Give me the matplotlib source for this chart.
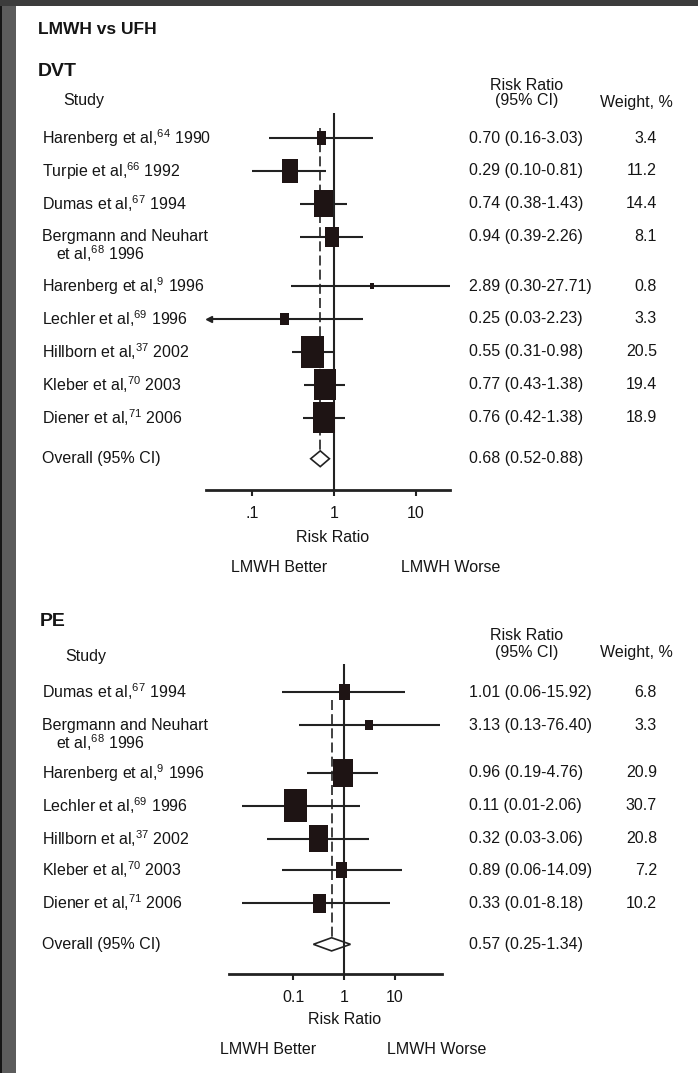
import numpy as np
import matplotlib
matplotlib.use('Agg')
import matplotlib.pyplot as plt
from matplotlib.path import Path
from matplotlib.patches import Rectangle, Polygon
from matplotlib.transforms import blended_transform_factory

plt.rcParams['font.family'] = ['Liberation Sans', 'DejaVu Sans']
plt.rcParams['mathtext.fontset'] = 'custom'
plt.rcParams['mathtext.rm'] = 'Liberation Sans'
plt.rcParams['mathtext.it'] = 'Liberation Sans:italic'
plt.rcParams['mathtext.bf'] = 'Liberation Sans:bold'
plt.rcParams['mathtext.default'] = 'rm'

# ---------------- data ----------------
dvt_studies = ["Harenberg et al,$^{64}$ 1990", "Turpie et al,$^{66}$ 1992",
               "Dumas et al,$^{67}$ 1994", "Bergmann and Neuhart\net al,$^{68}$ 1996",
               "Harenberg et al,$^{9}$ 1996", "Lechler et al,$^{69}$ 1996",
               "Hillborn et al,$^{37}$ 2002", "Kleber et al,$^{70}$ 2003",
               "Diener et al,$^{71}$ 2006"]
dvt_rr = [0.70, 0.29, 0.74, 0.94, 2.89, 0.25, 0.55, 0.77, 0.76]
dvt_lo = [0.16, 0.10, 0.38, 0.39, 0.30, 0.03, 0.31, 0.43, 0.42]
dvt_hi = [3.03, 0.81, 1.43, 2.26, 27.71, 2.23, 0.98, 1.38, 1.38]
dvt_weight = [3.4, 11.2, 14.4, 8.1, 0.8, 3.3, 20.5, 19.4, 18.9]
dvt_overall = [0.68, 0.52, 0.88]
dvt_ticks = [0.1, 1, 10]
dvt_ticklabels = [".1", "1", "10"]

pe_studies = ["Dumas et al,$^{67}$ 1994", "Bergmann and Neuhart\net al,$^{68}$ 1996",
              "Harenberg et al,$^{9}$ 1996", "Lechler et al,$^{69}$ 1996",
              "Hillborn et al,$^{37}$ 2002", "Kleber et al,$^{70}$ 2003",
              "Diener et al,$^{71}$ 2006"]
pe_rr = [1.01, 3.13, 0.96, 0.11, 0.32, 0.89, 0.33]
pe_lo = [0.06, 0.13, 0.19, 0.01, 0.03, 0.06, 0.01]
pe_hi = [15.92, 76.40, 4.76, 2.06, 3.06, 14.09, 8.18]
pe_weight = [6.8, 3.3, 20.9, 30.7, 20.8, 7.2, 10.2]
pe_overall = [0.57, 0.25, 1.34]
pe_ticks = [0.1, 1, 10]
pe_ticklabels = ["0.1", "1", "10"]

# ---------------- layout ----------------
W, H = 698, 1073
TXT = '#151515'
LINE = '#222222'
BOX = '#1e1414'
FS = 11.5


def fx(x):
    return x / W


def fy(y):
    return 1 - y / H


fig = plt.figure(figsize=(W / 100, H / 100), dpi=100, facecolor='white')

# dark frame of the scanned page
fig.patches.append(Rectangle((0, 0), fx(16), 1, transform=fig.transFigure,
                             facecolor='#5c5c5c', edgecolor='none', zorder=0))
fig.patches.append(Rectangle((0, 0), fx(1.5), 1, transform=fig.transFigure,
                             facecolor='#151515', edgecolor='none', zorder=0))
fig.patches.append(Rectangle((0, fy(6)), 1, 6 / H, transform=fig.transFigure,
                             facecolor='#3c3c3c', edgecolor='none', zorder=0))

box_path = Path([(-0.35, -0.5), (0.35, -0.5), (0.35, 0.5), (-0.35, 0.5), (-0.35, -0.5)],
                [Path.MOVETO, Path.LINETO, Path.LINETO, Path.LINETO, Path.CLOSEPOLY])


def panel(studies, rr, lo, hi, weight, overall, ticks, ticklabels,
          rows, overall_row, ax_px, xlim, ylim, size_k, dash_start, dia_h,
          arrow_below, head_y, label_y, better_x, worse_x, rlabel_x):
    left, top, right, bottom = ax_px
    ax = fig.add_axes([fx(left), fy(bottom), (right - left) / W, (bottom - top) / H])
    ax.set_xscale('log')
    ax.set_xlim(*xlim)
    ax.set_ylim(*ylim)
    ax.patch.set_alpha(0)
    for s in ('top', 'left', 'right'):
        ax.spines[s].set_visible(False)
    ax.spines['bottom'].set_linewidth(2)
    ax.spines['bottom'].set_color(LINE)
    ax.set_yticks([])
    ax.set_xticks(ticks)
    ax.set_xticklabels(ticklabels)
    ax.xaxis.set_minor_locator(matplotlib.ticker.NullLocator())
    ax.tick_params(axis='x', direction='out', length=4, width=1.5, pad=7.5,
                   labelsize=FS, colors=TXT, color=LINE)

    rows = np.asarray(rows, dtype=float)
    lo_a = np.asarray(lo)
    hi_a = np.asarray(hi)
    lo_c = np.clip(lo_a, xlim[0], xlim[1])
    hi_c = np.clip(hi_a, xlim[0], xlim[1])

    ax.axvline(1, color=LINE, lw=1.5, zorder=3)
    ax.hlines(rows, lo_c, hi_c, color=LINE, lw=1.5, zorder=3)
    if arrow_below is not None:
        m = lo_a < arrow_below
        ax.plot(lo_a[m], rows[m], ls='none', marker='<', ms=5, color=LINE, zorder=3)
    ax.scatter(rr, rows, s=size_k * np.asarray(weight), marker=box_path,
               color=BOX, linewidths=0, zorder=4)

    est, olo, ohi = overall
    ax.plot([est, est], [dash_start, overall_row - dia_h], color=LINE, lw=1.2,
            ls=(0, (6, 2.5)), zorder=2)
    ax.add_patch(Polygon([(olo, overall_row), (est, overall_row - dia_h),
                          (ohi, overall_row), (est, overall_row + dia_h)],
                         closed=True, facecolor='white', edgecolor=LINE, lw=1.2, zorder=2))

    tr = blended_transform_factory(fig.transFigure, ax.transData)
    line_gap = 0.52
    for name, r, l, h, e, w in zip(studies, rows, lo, hi, rr, weight):
        parts = name.split('\n')
        ax.text(fx(42), r, parts[0], transform=tr, ha='left', va='center',
                fontsize=FS, color=TXT)
        if len(parts) > 1:
            ax.text(fx(56), r + line_gap, parts[1], transform=tr, ha='left', va='center',
                    fontsize=FS, color=TXT)
        ax.text(fx(469), r, f"{e:.2f} ({l:.2f}-{h:.2f})", transform=tr, ha='left',
                va='center', fontsize=FS, color=TXT)
        ax.text(fx(657), r, f"{w:.1f}", transform=tr, ha='right', va='center',
                fontsize=FS, color=TXT)
    ax.text(fx(42), overall_row, "Overall (95% CI)", transform=tr, ha='left',
            va='center', fontsize=FS, color=TXT)
    ax.text(fx(469), overall_row, f"{est:.2f} ({olo:.2f}-{ohi:.2f})", transform=tr,
            ha='left', va='center', fontsize=FS, color=TXT)

    # headers
    fig.text(fx(527), fy(head_y - 16), "Risk Ratio", ha='center', va='center',
             fontsize=FS, color=TXT)
    fig.text(fx(527), fy(head_y), "(95% CI)", ha='center', va='center',
             fontsize=FS, color=TXT)
    fig.text(fx(636), fy(head_y + 1), "Weight, %", ha='center', va='center',
             fontsize=FS, color=TXT)

    fig.text(fx(rlabel_x), fy(label_y), "Risk Ratio", ha='center', va='center',
             fontsize=FS, color=TXT)
    fig.text(fx(better_x), fy(label_y + 30), "LMWH Better", ha='center', va='center',
             fontsize=FS, color=TXT)
    fig.text(fx(worse_x), fy(label_y + 30), "LMWH Worse", ha='center', va='center',
             fontsize=FS, color=TXT)
    return ax


fig.text(fx(38), fy(30), "LMWH vs UFH", ha='left', va='center', fontsize=12.5,
         fontweight='bold', color=TXT)

# DVT panel
fig.text(fx(38), fy(72), "DVT", ha='left', va='center', fontsize=14, fontweight='bold',
         color=TXT)
fig.text(fx(63), fy(100), "Study", ha='left', va='center', fontsize=FS, color=TXT)
dvt_rows = [0, 1, 2, 3, 4.5, 5.5, 6.5, 7.5, 8.5]
panel(dvt_studies, dvt_rr, dvt_lo, dvt_hi, dvt_weight, dvt_overall, dvt_ticks,
      dvt_ticklabels, dvt_rows, 9.75,
      ax_px=(206, 113, 450, 490), xlim=(0.0275, 26.0), ylim=(10.7, -0.76),
      size_k=26.0, dash_start=-0.3, dia_h=0.24, arrow_below=0.05,
      head_y=101, label_y=537, better_x=279, worse_x=451, rlabel_x=333)

# PE panel
fig.text(fx(40), fy(622), "PE", ha='left', va='center', fontsize=14, fontweight='bold',
         color=TXT)
fig.text(fx(65), fy(657), "Study", ha='left', va='center', fontsize=FS, color=TXT)
pe_rows = [0, 1, 2.45, 3.45, 4.45, 5.4, 6.4]
panel(pe_studies, pe_rr, pe_lo, pe_hi, pe_weight, pe_overall, pe_ticks,
      pe_ticklabels, pe_rows, 7.65,
      ax_px=(229, 664, 442, 974), xlim=(0.00545, 84.9), ylim=(8.55, -0.85),
      size_k=18.7, dash_start=0.25, dia_h=0.2, arrow_below=None,
      head_y=652, label_y=1020, better_x=268, worse_x=437, rlabel_x=345)

fig.savefig('out.png', dpi=100, facecolor='white')
